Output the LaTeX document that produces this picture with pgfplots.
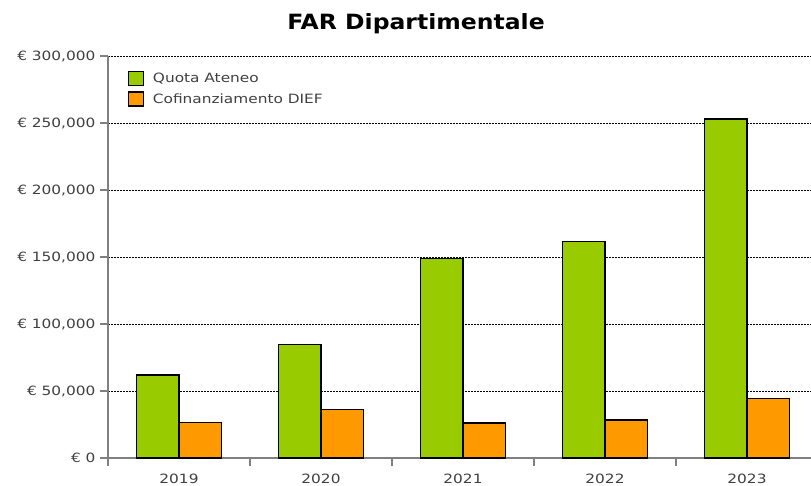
\documentclass[border=0pt]{standalone}
\usepackage{fontspec}
\setmainfont{DejaVu Sans}
\usepackage{graphicx}
\usepackage{pgfplots}
\pgfplotsset{compat=1.18}
\definecolor{qgreen}{HTML}{99CC00}
\definecolor{corange}{HTML}{FF9900}
\definecolor{tickgray}{HTML}{404040}
\definecolor{axgray}{HTML}{808080}
\newcommand{\sx}[1]{\scalebox{1.2}[1]{#1}}
\begin{document}
\begin{tikzpicture}[x=1pt,y=1pt]
\useasboundingbox (0,0) rectangle (811,485);
\clip (0,0) rectangle (811,485);
\node[font=\fontsize{21}{24}\selectfont\bfseries,inner sep=0pt] at (416,461) {\scalebox{1.12}[1]{FAR Dipartimentale}};
\begin{axis}[
  at={(108pt,27pt)}, anchor=south west,
  scale only axis, width=710pt, height=402pt,
  xmin=-0.5, xmax=4.5, ymin=0, ymax=300000,
  axis lines=left,
  axis line style={axgray, line width=1.6pt, -},
  ybar,
  xtick={0,1,2,3,4},
  xticklabels={\sx{2019},\sx{2020},\sx{2021},\sx{2022},\sx{2023}},
  minor xtick={-0.5,0.5,1.5,2.5,3.5,4.5},
  major x tick style={draw=none},
  minor x tick style={axgray, line width=1.2pt},
  minor tick length=8pt,
  ytick={0,50000,100000,150000,200000,250000,300000},
  yticklabels={\sx{€ 0},\sx{€ 50,000},\sx{€ 100,000},\sx{€ 150,000},\sx{€ 200,000},\sx{€ 250,000},\sx{€ 300,000}},
  scaled y ticks=false,
  major tick length=8pt,
  y tick style={axgray, line width=1.2pt},
  tick align=outside,
  ticklabel style={font=\fontsize{12.8}{14}\selectfont, text=tickgray},
  xticklabel style={yshift=-4pt},
  yticklabel style={xshift=-1pt},
  ymajorgrids=true,
  major grid style={black, line width=0.9pt, dash pattern=on 2pt off 1pt},
  axis on top=false,
  legend style={at={(20pt,387pt)}, anchor=north west, draw=none, fill=none,
    font=\fontsize{12.8}{14}\selectfont, text=tickgray,
    row sep=5pt, inner sep=0pt, nodes={inner sep=1.5pt},
    /tikz/every even column/.append style={column sep=0pt}},
  legend cell align=left,
  legend image code/.code={\draw[#1, line width=1.2pt] (0pt,-7pt) rectangle (15pt,7pt); \path (22pt,0pt);},
]
\addplot[fill=qgreen, draw=black, line width=1.3pt, bar width=0.3, bar shift=-0.15] coordinates {(0,61900) (1,84600) (2,148700) (3,161400) (4,253000)};
\addlegendentry{\sx{Quota Ateneo}}
\addplot[fill=corange, draw=black, line width=1.3pt, bar width=0.3, bar shift=0.15] coordinates {(0,26300) (1,36100) (2,26100) (3,28400) (4,44600)};
\addlegendentry{\sx{Cofinanziamento DIEF}}
\end{axis}
\end{tikzpicture}
\end{document}
